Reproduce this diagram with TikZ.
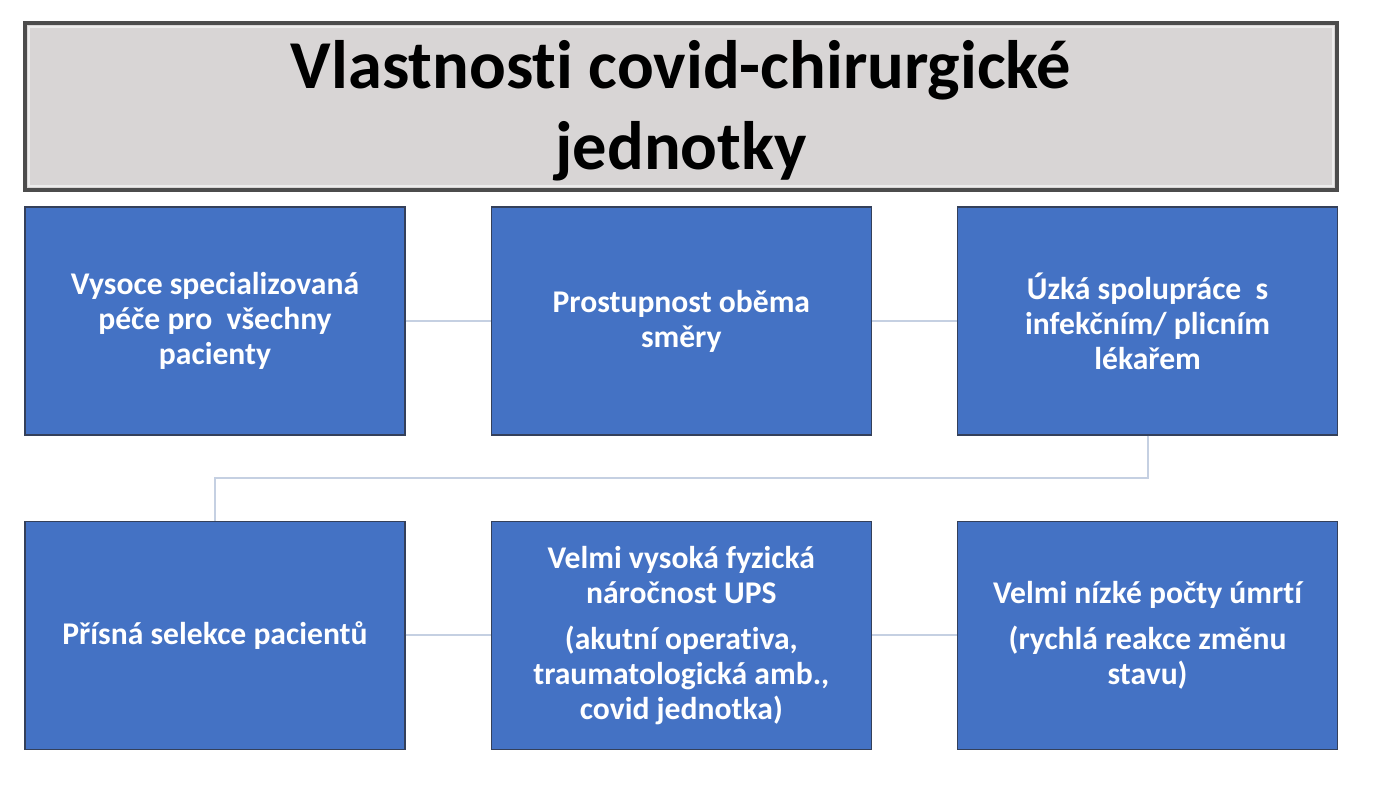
\documentclass[tikz,border=0pt]{standalone}
\usepackage{fontspec}
\setmainfont{Carlito}[Ligatures={NoCommon}]
\usetikzlibrary{positioning}
\definecolor{boxblue}{HTML}{4472C4}
\definecolor{boxedge}{HTML}{34405A}
\definecolor{titlegray}{HTML}{D8D5D5}
\definecolor{linkgray}{HTML}{C5D0E2}
\begin{document}
\begin{tikzpicture}[x=0.02cm, y=-0.02cm,
    card/.style={draw=boxedge, line width=0.8pt, fill=boxblue, text=white,
      font=\bfseries\fontsize{18}{20}\selectfont, align=center,
      minimum width=7.6cm, minimum height=4.56cm, inner sep=0pt},
    link/.style={draw=linkgray, line width=1.2pt}]
  \useasboundingbox (0,0) rectangle (1384,800);
  % title bar
  \draw [draw=black!70, line width=2pt, fill=titlegray] (25,23) rectangle (1337,190);
  \draw [white!85!gray, line width=1.5pt] (29,27) rectangle (1333,186);
  \node (title) [font=\bfseries\fontsize{39}{46}\selectfont, align=center]
      at (681,111) {Vlastnosti covid-chirurgické\\jednotky};
  % first row
  \node (care)  [card] at (215,321) {Vysoce specializovaná\\péče pro\ \ všechny\\pacienty};
  \node (pass)  [card, right=1.7cm of care] {Prostupnost oběma\\směry};
  \node (infek) [card, right=1.7cm of pass] {Úzká spolupráce\ \ s\\infekčním/ plicním\\lékařem};
  % second row
  \node (selek) [card, below=1.7cm of care] {Přísná selekce pacientů};
  \node (ups)   [card, below=1.7cm of pass] {Velmi vysoká fyzická\\náročnost UPS\\[6pt](akutní operativa,\\traumatologická amb.,\\covid jednotka)};
  \node (death) [card, below=1.7cm of infek] {Velmi nízké počty úmrtí\\[6pt](rychlá reakce změnu\\stavu)};
  % connectors
  \draw [link] (care) -- (pass);
  \draw [link] (pass) -- (infek);
  \draw [link] (infek.south) |- (215,478) -| (selek.north);
  \draw [link] (selek) -- (ups);
  \draw [link] (ups) -- (death);
\end{tikzpicture}
\end{document}
